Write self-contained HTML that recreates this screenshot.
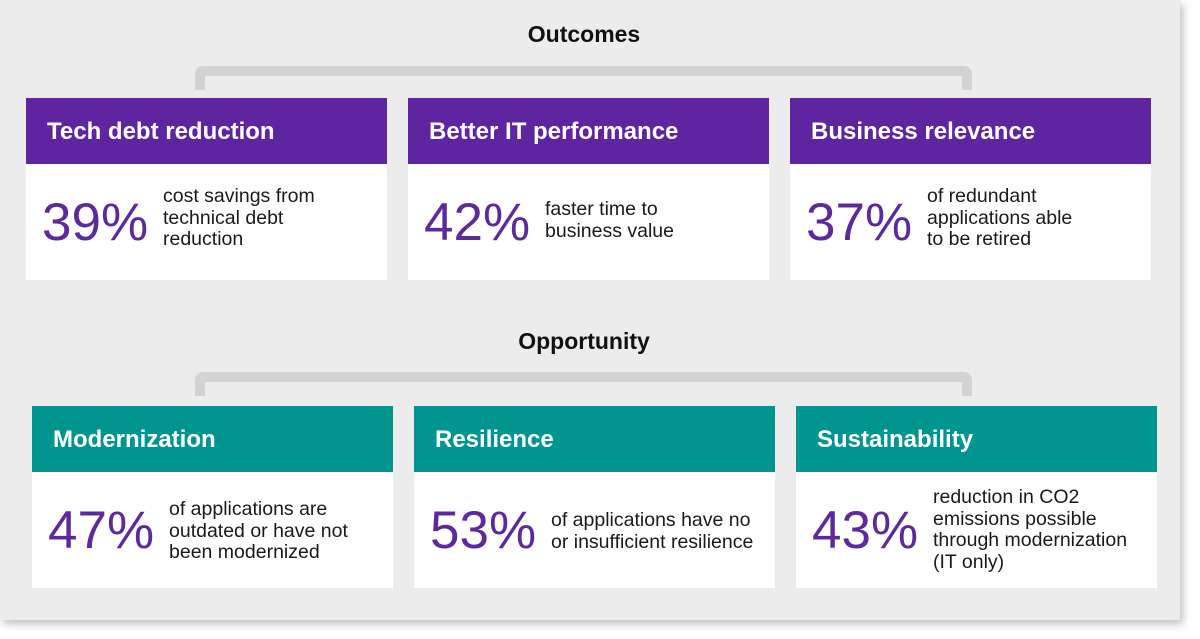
<!DOCTYPE html>
<html><head><style>
body{margin:0;width:1200px;height:639px;background:#fff;font-family:"Liberation Sans",sans-serif;position:relative;overflow:hidden}
.panel{position:absolute;left:0;top:0;width:1180px;height:620px;background:#ececec;box-shadow:3px 4px 8px rgba(0,0,0,.25)}
.t{position:absolute;width:1168px;text-align:center;font-weight:bold;font-size:23px;color:#111}
.br{position:absolute;border:10px solid #d3d3d3;border-bottom:none;border-radius:8px 8px 0 0;height:14px}
.card{position:absolute;width:361px;height:182px;background:#fff}
.h{height:66px;color:#fff;font-weight:bold;font-size:24px;line-height:68px;padding-left:21px}
.p{position:absolute;left:16px;top:98px;font-size:53px;color:#5c2a9d;line-height:1}
.d{position:absolute;left:137px;font-size:19.5px;line-height:21.5px;color:#1a1a1a;white-space:nowrap}
</style></head><body>
<div class="panel"></div>
<div class="t" style="top:21px">Outcomes</div>
<div class="br" style="left:195px;top:66px;width:757px"></div>
<div class="t" style="top:328px">Opportunity</div>
<div class="br" style="left:195px;top:372px;width:757px"></div>

<div class="card" style="left:26px;top:98px"><div class="h" style="background:#5f249f">Tech debt reduction</div><div class="p">39%</div><div class="d" style="top:88px">cost savings from<br>technical debt<br>reduction</div></div>
<div class="card" style="left:408px;top:98px"><div class="h" style="background:#5f249f">Better IT performance</div><div class="p">42%</div><div class="d" style="top:101px">faster time to<br>business value</div></div>
<div class="card" style="left:790px;top:98px"><div class="h" style="background:#5f249f">Business relevance</div><div class="p">37%</div><div class="d" style="top:88px">of redundant<br>applications able<br>to be retired</div></div>

<div class="card" style="left:32px;top:406px"><div class="h" style="background:#00968f">Modernization</div><div class="p">47%</div><div class="d" style="top:93px">of applications are<br>outdated or have not<br>been modernized</div></div>
<div class="card" style="left:414px;top:406px"><div class="h" style="background:#00968f">Resilience</div><div class="p">53%</div><div class="d" style="top:104px">of applications have no<br>or insufficient resilience</div></div>
<div class="card" style="left:796px;top:406px"><div class="h" style="background:#00968f">Sustainability</div><div class="p">43%</div><div class="d" style="top:81px">reduction in CO2<br>emissions possible<br>through modernization<br>(IT only)</div></div>
</body></html>
